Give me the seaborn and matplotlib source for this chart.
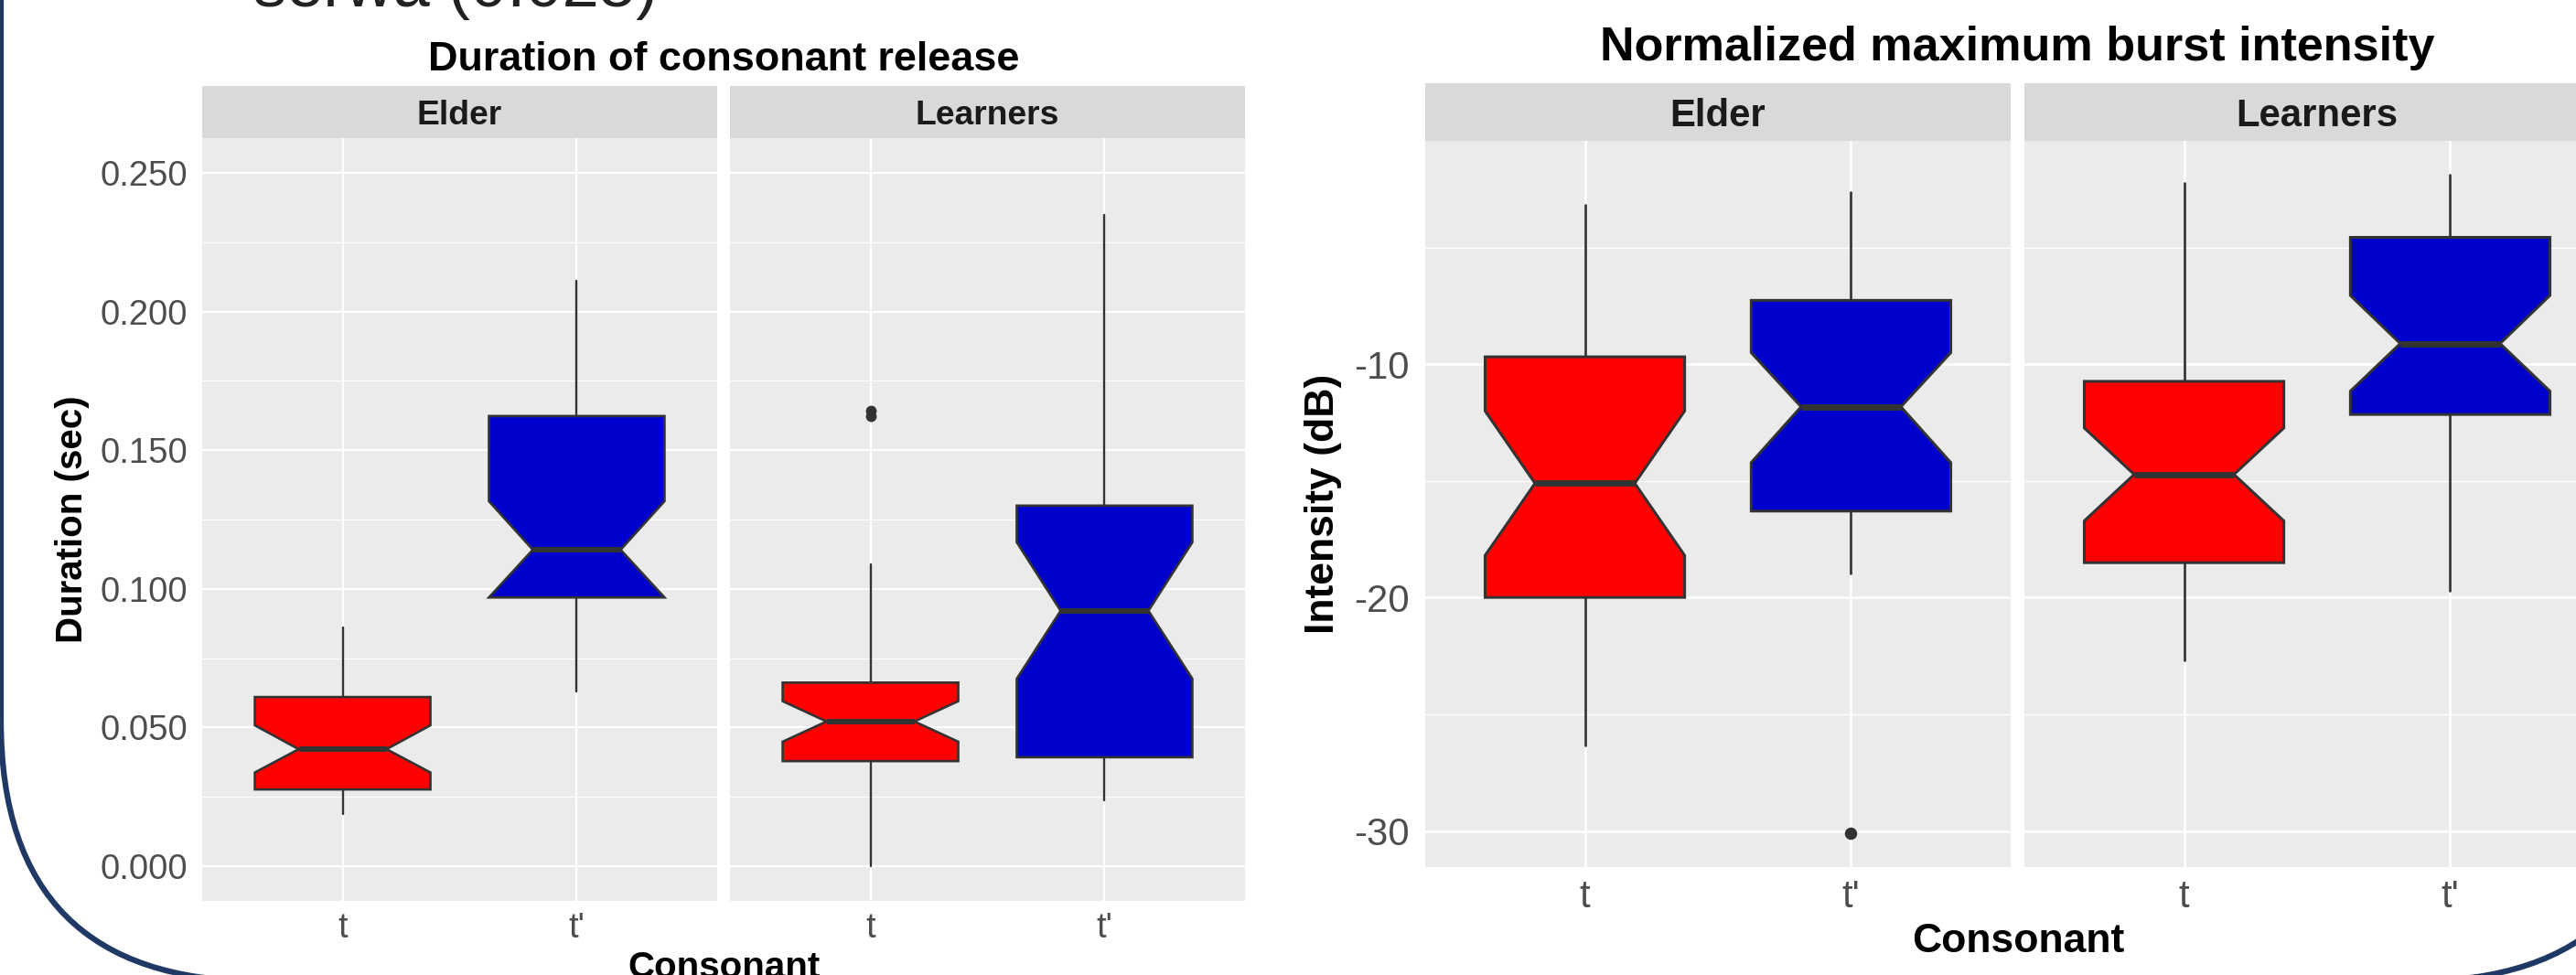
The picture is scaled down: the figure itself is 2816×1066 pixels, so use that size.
import matplotlib
matplotlib.use("Agg")
import matplotlib.pyplot as plt
import matplotlib.patches as mpatches
import matplotlib.transforms as mtrans
import seaborn as sns

W, H = 2816, 1066

groups = ["Elder", "Learners"]
consonants = ["t", "t'"]
fills = ["#FF0000", "#0000CD"]

# box summaries, order: Elder t, Elder t', Learners t, Learners t'
# duration of consonant release (sec)
dur_whislo = [0.0187, 0.0630, 0.0000, 0.0238]
dur_q1 = [0.0277, 0.0969, 0.0379, 0.0393]
dur_med = [0.0422, 0.1141, 0.0522, 0.0921]
dur_q3 = [0.0610, 0.1623, 0.0662, 0.1300]
dur_whishi = [0.0860, 0.2111, 0.1087, 0.2348]
dur_cilo = [0.0338, 0.0969, 0.0449, 0.0676]
dur_cihi = [0.0508, 0.1316, 0.0595, 0.1168]
dur_fliers = [[], [], [0.1642, 0.1624], []]
dur_limits = [0.0, 0.25]
dur_ticks = [0.0, 0.05, 0.10, 0.15, 0.20, 0.25]
dur_minor = [0.025, 0.075, 0.125, 0.175, 0.225]
dur_ticklabels = ["0.000", "0.050", "0.100", "0.150", "0.200", "0.250"]

# normalized maximum burst intensity (dB)
int_whislo = [-26.35, -18.95, -22.69, -19.69]
int_q1 = [-19.99, -16.29, -18.50, -12.15]
int_med = [-15.10, -11.82, -14.72, -9.11]
int_q3 = [-9.68, -7.26, -10.73, -4.56]
int_whishi = [-3.17, -2.62, -2.24, -1.89]
int_cilo = [-18.19, -14.21, -16.71, -11.15]
int_cihi = [-12.00, -9.50, -12.73, -7.05]
int_fliers = [[], [-30.1], [], []]
int_limits = [-30.13, -1.84]
int_ticks = [-30, -20, -10]
int_minor = [-25, -15, -5]
int_ticklabels = ["-30", "-20", "-10"]

sns.set_theme(style="darkgrid")
plt.rcParams["font.family"] = ["Liberation Sans", "DejaVu Sans"]
plt.rcParams["axes.unicode_minus"] = False

fig = plt.figure(figsize=(W / 100, H / 100), dpi=100)
fig.patch.set_facecolor("white")


def px_axes(x0, x1, y0, y1):
    return fig.add_axes([x0 / W, 1 - y1 / H, (x1 - x0) / W, (y1 - y0) / H])


def fig_text(x, y, s, **kw):
    fig.text(x / W, 1 - y / H, s, **kw)


def draw_chart(cfg, data):
    whislo, q1, med, q3, whishi, cilo, cihi, fliers = data
    lo, hi = cfg["limits"]
    pad = 0.05 * (hi - lo)
    sc = cfg["scale"]
    y0, y1 = cfg["panel_y"]
    s0, s1 = cfg["strip_y"]
    for i, g in enumerate(groups):
        x0, x1 = cfg["panels_x"][i]
        ax = px_axes(x0, x1, y0, y1)
        ax.set_facecolor("#EBEBEB")
        stats = []
        for j in range(2):
            k = 2 * i + j
            stats.append(dict(med=med[k], q1=q1[k], q3=q3[k], whislo=whislo[k],
                              whishi=whishi[k], cilo=cilo[k], cihi=cihi[k],
                              fliers=fliers[k]))
        res = ax.bxp(stats, positions=[1, 2], widths=0.75, capwidths=0.375,
                     patch_artist=True, shownotches=True, showcaps=False,
                     manage_ticks=False,
                     boxprops=dict(edgecolor="#333333", linewidth=1.9 * sc),
                     whiskerprops=dict(color="#333333", linewidth=1.7 * sc),
                     medianprops=dict(color="#333333", linewidth=4.4 * sc,
                                      solid_capstyle="butt"),
                     flierprops=dict(marker="o", markerfacecolor="#333333",
                                     markeredgecolor="none", markersize=8.5 * sc))
        for j, box in enumerate(res["boxes"]):
            box.set_facecolor(fills[j])
            box.set_zorder(3)
        for line in res["medians"]:
            line.set_zorder(4)
        ax.set_xlim(0.4, 2.6)
        ax.set_ylim(lo - pad, hi + pad)
        ax.set_xticks([1, 2])
        ax.set_xticklabels(consonants)
        ax.set_yticks(cfg["ticks"])
        ax.set_yticks(cfg["minor"], minor=True)
        ax.set_yticklabels(cfg["ticklabels"])
        ax.set_axisbelow(True)
        ax.grid(which="major", color="white", linewidth=1.6 * sc)
        ax.grid(which="minor", axis="y", color="white", linewidth=0.85 * sc)
        ax.tick_params(axis="both", which="major", length=5.8, width=1.4,
                       color="#333333", labelcolor="#4D4D4D",
                       labelsize=cfg["ticksize"], pad=cfg["tickpad"])
        ax.tick_params(axis="y", which="minor", length=0)
        ax.tick_params(axis="x", pad=cfg["xtickpad"])
        if i > 0:
            ax.tick_params(axis="y", which="major", length=0, labelleft=False)
        sns.despine(ax=ax, left=True, bottom=True)
        # facet strip
        ph = y1 - y0
        strip = mpatches.Rectangle((0, 1), 1, (s1 - s0) / ph, transform=ax.transAxes,
                                   facecolor="#D9D9D9", edgecolor="none", clip_on=False)
        ax.add_patch(strip)
        ax.text(0.5, 1 + (s1 - s0) / 2 / ph, g, transform=ax.transAxes,
                ha="center", va="center_baseline", fontsize=cfg["stripsize"],
                fontweight="bold", color="#1A1A1A")
    fig_text(cfg["title_xy"][0], cfg["title_xy"][1], cfg["title"], ha="center",
             va="baseline", fontsize=cfg["titlesize"], fontweight="bold", color="black")
    fig_text(cfg["ylab_xy"][0], cfg["ylab_xy"][1], cfg["ylab"], ha="center", va="center",
             rotation=90, fontsize=cfg["labsize"], fontweight="bold", color="black")
    fig_text(cfg["xlab_xy"][0], cfg["xlab_xy"][1], "Consonant", ha="center",
             va="baseline", fontsize=cfg["labsize"], fontweight="bold", color="black")


left_cfg = dict(panels_x=[(221, 784), (798, 1361)], panel_y=(151, 985), strip_y=(94, 151),
                limits=dur_limits, ticks=dur_ticks, minor=dur_minor,
                ticklabels=dur_ticklabels, scale=1.0, ticksize=27.5, tickpad=5.8,
                xtickpad=3.0, stripsize=26.8, titlesize=32.4,
                labsize=29.0, title="Duration of consonant release", title_xy=(791, 77),
                ylab="Duration (sec)", ylab_xy=(79, 568), xlab_xy=(791, 1069))

right_cfg = dict(panels_x=[(1558, 2198), (2213, 2853)], panel_y=(154, 948), strip_y=(91, 154),
                 limits=int_limits, ticks=int_ticks, minor=int_minor,
                 ticklabels=int_ticklabels, scale=1.14, ticksize=30.2, tickpad=6.5,
                 xtickpad=3.5, stripsize=30.2, titlesize=37.5,
                 labsize=32.0, title="Normalized maximum burst intensity",
                 title_xy=(2205, 66), ylab="Intensity (dB)", ylab_xy=(1447, 551),
                 xlab_xy=(2206, 1041))

draw_chart(left_cfg, (dur_whislo, dur_q1, dur_med, dur_q3, dur_whishi,
                      dur_cilo, dur_cihi, dur_fliers))
draw_chart(right_cfg, (int_whislo, int_q1, int_med, int_q3, int_whishi,
                       int_cilo, int_cihi, int_fliers))

# slide text cut off at the top
fig_text(277, 7, "serwa (0.025)", ha="left", va="baseline", fontsize=52, color="#222222")

# rounded slide frame, in output pixels
frame = mpatches.FancyBboxPatch((1, H - 1073), 2922, 2000,
                                boxstyle="round,pad=0,rounding_size=285",
                                transform=mtrans.IdentityTransform(), fill=False,
                                edgecolor="#1F3864", linewidth=4.5, zorder=10)
fig.add_artist(frame)

fig.savefig("out.png", dpi=100, facecolor="white")
